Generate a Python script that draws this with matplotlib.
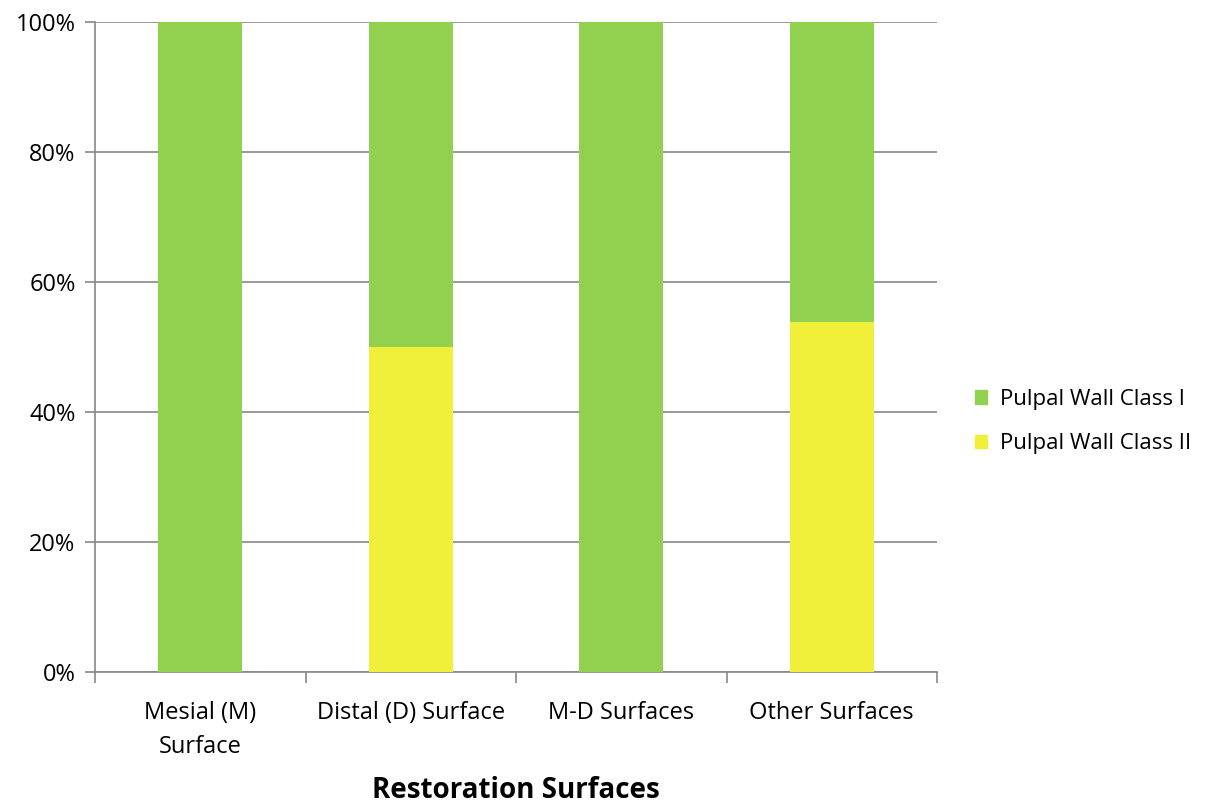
import numpy as np
import matplotlib as mpl
import matplotlib.pyplot as plt
from matplotlib.patches import Patch

mpl.rcParams['font.family'] = ['Open Sans', 'DejaVu Sans']

categories = ['Mesial (M)\nSurface', 'Distal (D) Surface', 'M-D Surfaces', 'Other Surfaces']
class_ii = [0.0, 50.0, 0.0, 53.8]
class_i = [100.0, 50.0, 100.0, 46.2]
series_names = ['Pulpal Wall Class I', 'Pulpal Wall Class II']

green = '#92d050'
yellow = '#f0ef3a'
grid_c = '#888888'

fig = plt.figure(figsize=(12.31, 8.09), dpi=100)
ax = fig.add_axes([95 / 1231, 137 / 809, 842 / 1231, 650 / 809])

x = np.arange(len(categories))
ax.bar(x, class_ii, width=0.4, color=yellow, zorder=3)
ax.bar(x, class_i, width=0.4, bottom=class_ii, color=green, zorder=3)

ax.set_xlim(-0.5, len(categories) - 0.5)
ax.set_ylim(0, 100)
ax.set_yticks(np.arange(0, 101, 20))
ax.set_yticklabels(['%d%%' % v for v in range(0, 101, 20)], fontsize=17)
ax.yaxis.grid(True, color=grid_c, lw=1.2, zorder=0)

ax.set_xticks(x)
ax.set_xticklabels(categories, fontsize=17, linespacing=1.55)
ax.set_xticks(np.arange(-0.5, len(categories)), minor=True)
ax.tick_params(axis='x', which='major', length=0, pad=21)
ax.tick_params(axis='x', which='minor', length=8, width=1.2, color=grid_c)
ax.tick_params(axis='y', length=7, width=1.2, color=grid_c, pad=7)

for s in ['top', 'right']:
    ax.spines[s].set_visible(False)
for s in ['left', 'bottom']:
    ax.spines[s].set_color(grid_c)
    ax.spines[s].set_linewidth(1.2)

# axis title placed in figure coords so it sits just above the lower edge
fig.text(516 / 1231, 1 - 790 / 809, 'Restoration Surfaces', fontsize=20,
         fontweight='bold', ha='center', va='center')

handles = [Patch(color=green), Patch(color=yellow)]
fig.legend(handles, series_names, loc='center left', bbox_to_anchor=(0.776, 0.479),
           frameon=False, fontsize=16, handlelength=0.55, handleheight=0.55,
           handletextpad=0.55, labelspacing=1.05)

fig.savefig('out.png', dpi=100)
plt.close()
